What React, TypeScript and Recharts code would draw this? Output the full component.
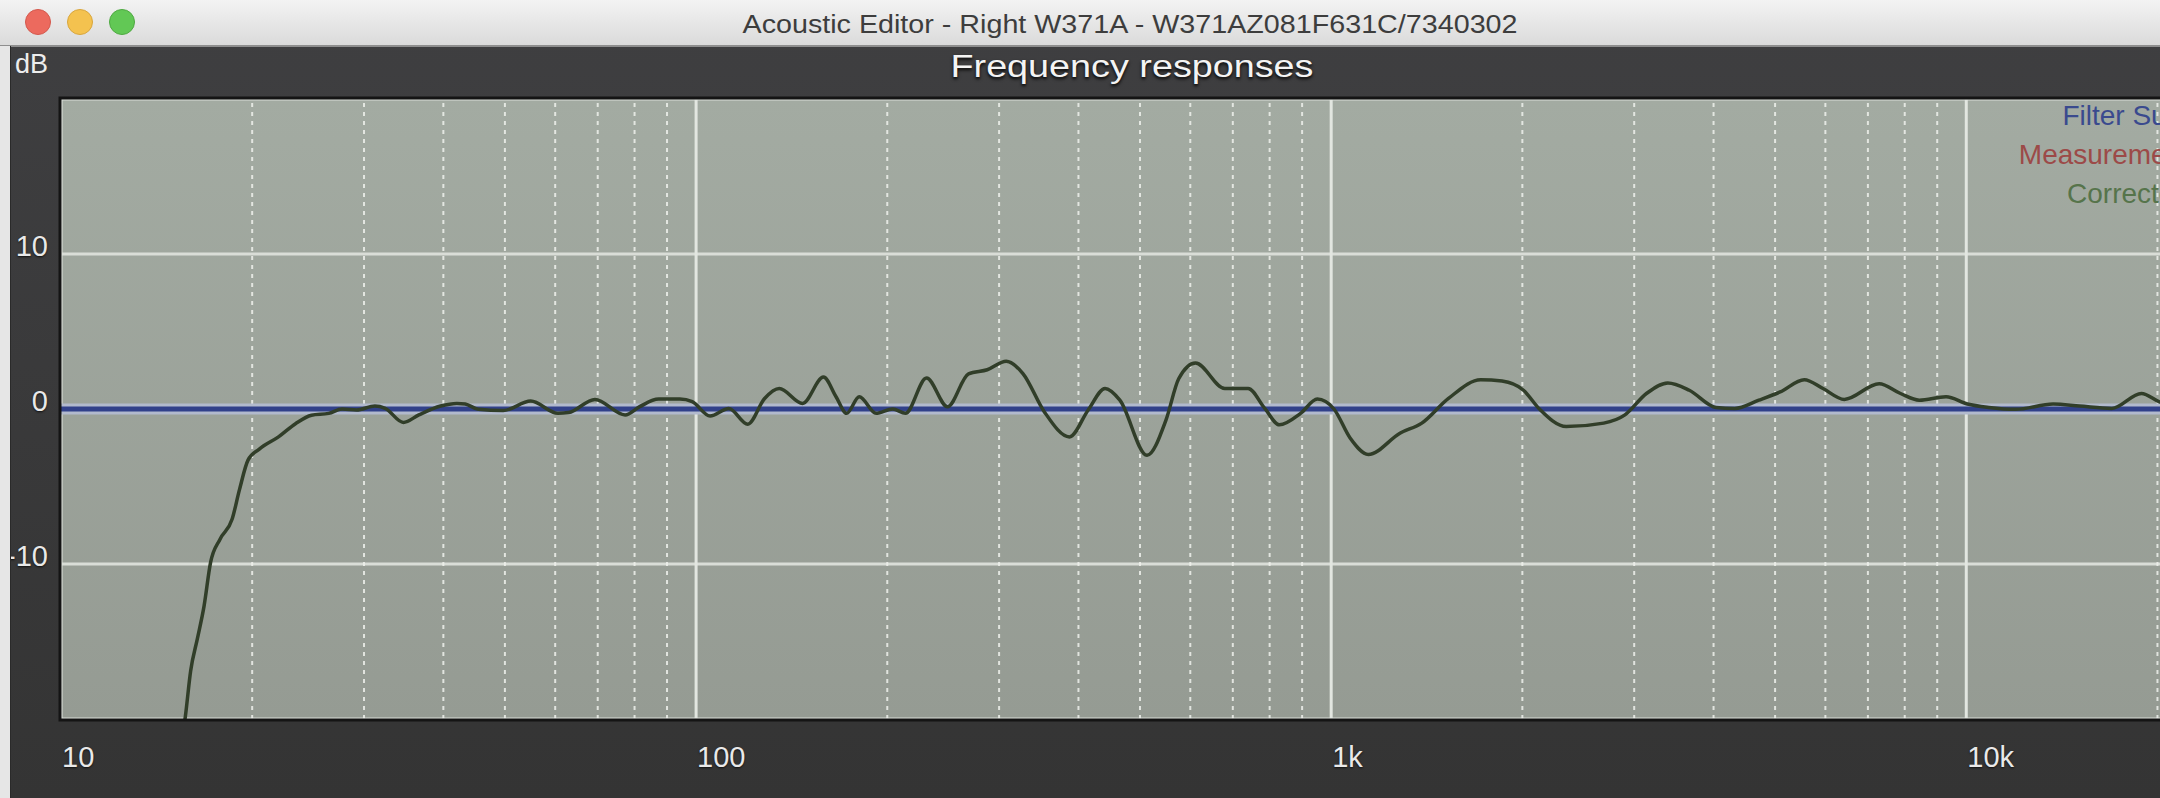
import React from 'react'
import {
  LineChart,
  Line,
  XAxis,
  YAxis,
  CartesianGrid,
  ReferenceLine,
} from 'recharts'

// corrected response (Hz / dB)
const correctedFreqs = [
  15.3, 15.7, 16.0, 16.4, 16.8, 17.2, 17.8, 18.6, 19.1, 19.7, 20.5, 22.0, 23.4, 24.8, 26.4, 27.7,
  29.2, 31.2, 32.4, 34.6, 36.6, 39.6, 42.0, 43.3, 45.4, 49.7, 54.9, 60.6, 63.0, 69.3, 77.3, 81.5,
  87.3, 94.3, 98.6, 105.2, 112.6, 120.6, 128.2, 135.2, 147.1, 158.7, 166.1, 172.6, 180.7, 192.0,
  204.0, 213.6, 230.6, 248.8, 268.5, 287.4, 307.9, 327.3, 353.3, 387.1, 414.4, 440.5, 464.8, 512.9,
  549.5, 575.3, 611.3, 680.0, 740.0, 786.0, 829.0, 895.0, 951.0, 1010, 1071, 1144, 1285, 1389,
  1530, 1720, 1858, 2008, 2128, 2345, 2686, 2901, 3136, 3389, 3663, 4036, 4319, 4714, 5093, 5558,
  5949, 6427, 7291, 7878, 8433, 9293, 10040, 10850, 11960, 13700, 15090, 16950, 18870, 20110, 21000,
]
const correctedDb = [
  -22.6, -19.8, -16.9, -14.8, -12.7, -9.9, -8.4, -7.1, -5.2, -3.3, -2.6, -1.8, -0.95, -0.4, -0.28, 0.0,
  -0.06, 0.19, 0.04, -0.87, -0.38, 0.19, 0.36, 0.32, -0.02, -0.1, 0.51, -0.28, -0.23, 0.62, -0.38, 0.15,
  0.64, 0.64, 0.47, -0.45, 0.04, -0.98, 0.68, 1.32, 0.36, 2.06, 0.79, -0.28, 0.79, -0.28,
  0.0, -0.28, 2.0, 0.15, 2.27, 2.53, 3.08, 2.27, -0.17, -1.8, -0.06, 1.32, 0.57, -2.99,
  -0.7, 1.95, 2.97, 1.32, 1.32, 0.04, -1.02, -0.28, 0.64, 0.0, -1.87, -2.93, -1.55, -0.91,
  0.68, 1.89, 1.8, 1.21, 0.0, -1.13, -0.91, -0.38, 1.0, 1.68, 1.21, 0.1, 0.04, 0.57, 1.1, 1.89,
  1.32, 0.62, 1.63, 1.0, 0.57, 0.79, 0.32, 0.1, -0.02, 0.32, 0.19, 0.04, 1.0, 0.47, 0.2,
]

// filter sum: flat target line
const filterFreqs = [10, 25000]
const filterDb = [0, 0]

const xDomain = [10, 25000]
const yDomain = [-20, 20]
const xTicks = [10, 100, 1000, 10000]
const xTickLabels = ['10', '100', '1k', '10k']
const yTicks = [-10, 0, 10]
const minorFreqs = [
  20, 30, 40, 50, 60, 70, 80, 90,
  200, 300, 400, 500, 600, 700, 800, 900,
  2000, 3000, 4000, 5000, 6000, 7000, 8000, 9000,
  20000,
]

const legendItems = ['Filter Sum', 'Measurement', 'Corrected']
const legendColors = ['#3a4a8e', '#9c4a48', '#56744b']

const correctedData = correctedFreqs.map((freq, i) => ({ freq, db: correctedDb[i] }))
const filterData = filterFreqs.map((freq, i) => ({ freq, db: filterDb[i] }))

const FONT = '"Liberation Sans", Arial, Helvetica, sans-serif'

const XTick = (props: any) => {
  const { x, payload, index } = props
  return (
    <text
      x={x + 1}
      y={767}
      fill="#e9e9e9"
      fontSize={29}
      fontFamily={FONT}
      textAnchor="start"
      style={{ textShadow: '0 1px 2px #111' }}
    >
      {xTickLabels[index] ?? payload.value}
    </text>
  )
}

const YTick = (props: any) => {
  const { y, payload } = props
  return (
    <text
      x={48}
      y={y + 2}
      fill="#e9e9e9"
      fontSize={29}
      fontFamily={FONT}
      textAnchor="end"
      style={{ textShadow: '0 1px 2px #111' }}
    >
      {payload.value}
    </text>
  )
}

export default function App() {
  return (
    <div
      style={{
        position: 'fixed',
        left: 0,
        top: 0,
        width: 2160,
        height: 798,
        overflow: 'hidden',
        background: 'linear-gradient(#3f3f41, #343434)',
      }}
    >
      <div style={{ position: 'absolute', left: 0, top: 0 }}>
        <LineChart
          width={2240}
          height={798}
          margin={{ top: 99, right: 21, bottom: 0, left: 0 }}
        >
          <defs>
            <linearGradient id="plotBg" x1="0" y1="0" x2="0" y2="1">
              <stop offset="0%" stopColor="#a3aba2" />
              <stop offset="100%" stopColor="#959b93" />
            </linearGradient>
          </defs>
          <CartesianGrid
            vertical={false}
            fill="url(#plotBg)"
            fillOpacity={1}
            stroke="#d9ddd7"
            strokeWidth={3}
          />
          {minorFreqs.map(f => (
            <ReferenceLine
              key={f}
              x={f}
              stroke="#eef1ec"
              strokeOpacity={0.85}
              strokeWidth={2}
              strokeDasharray="4 5"
            />
          ))}
          {xTicks.map(f => (
            <ReferenceLine key={'M' + f} x={f} stroke="#e2e6e0" strokeWidth={3} />
          ))}
          <XAxis
            dataKey="freq"
            type="number"
            scale="log"
            domain={xDomain}
            ticks={xTicks}
            allowDataOverflow
            axisLine={false}
            tickLine={false}
            height={79}
            tick={<XTick />}
          />
          <YAxis
            type="number"
            domain={yDomain}
            ticks={yTicks}
            allowDataOverflow
            axisLine={false}
            tickLine={false}
            width={61}
            tick={<YTick />}
          />
          <Line
            data={filterData}
            dataKey="db"
            stroke="#b2bacd"
            strokeWidth={11}
            dot={false}
            activeDot={false}
            isAnimationActive={false}
          />
          <Line
            data={filterData}
            dataKey="db"
            stroke="#31418a"
            strokeWidth={5}
            dot={false}
            activeDot={false}
            isAnimationActive={false}
          />
          <Line
            data={correctedData}
            dataKey="db"
            type="monotone"
            stroke="#313e29"
            strokeWidth={3.5}
            dot={false}
            activeDot={false}
            isAnimationActive={false}
          />
        </LineChart>
      </div>

      <svg
        width={2160}
        height={798}
        style={{ position: 'absolute', left: 0, top: 0, pointerEvents: 'none' }}
      >
        <defs>
          <linearGradient id="titleBar" x1="0" y1="0" x2="0" y2="1">
            <stop offset="0%" stopColor="#f3f3f3" />
            <stop offset="100%" stopColor="#dadada" />
          </linearGradient>
        </defs>

        {/* window title bar */}
        <rect x={0} y={0} width={2160} height={46} fill="url(#titleBar)" />
        <line x1={0} x2={2160} y1={46} y2={46} stroke="#8e8e8e" strokeWidth={2} />
        <circle cx={38} cy={22} r={12.5} fill="#ec6a5e" stroke="#d4584c" />
        <circle cx={80} cy={22} r={12.5} fill="#f4c24f" stroke="#d9a63c" />
        <circle cx={122} cy={22} r={12.5} fill="#62c855" stroke="#4ea941" />
        <text
          x={1130}
          y={33}
          fontSize={25}
          fontFamily={FONT}
          fill="#3d3d3d"
          textAnchor="middle"
          textLength={775}
          lengthAdjust="spacingAndGlyphs"
        >
          Acoustic Editor - Right W371A - W371AZ081F631C/7340302
        </text>

        {/* left window edge */}
        <rect x={0} y={46} width={10} height={752} fill="#e6e6e6" />
        <line x1={10.5} x2={10.5} y1={46} y2={798} stroke="#2a2a2a" strokeWidth={1} />

        <text x={15} y={73} fontSize={27} fontFamily={FONT} fill="#ededed">
          dB
        </text>
        <text
          x={1132}
          y={77}
          fontSize={31}
          fontFamily={FONT}
          fill="#f4f4f4"
          textAnchor="middle"
          textLength={363}
          lengthAdjust="spacingAndGlyphs"
          style={{ textShadow: '0 2px 3px #000' }}
        >
          Frequency responses
        </text>

        {/* plot frame */}
        <rect x={60} y={98} width={2200} height={622} fill="none" stroke="#141414" strokeWidth={3} />

        {legendItems.map((name, i) => (
          <text
            key={name}
            x={2190}
            y={125 + i * 39}
            fontSize={28}
            fontFamily={FONT}
            fill={legendColors[i]}
            textAnchor="end"
          >
            {name}
          </text>
        ))}
      </svg>
    </div>
  )
}
